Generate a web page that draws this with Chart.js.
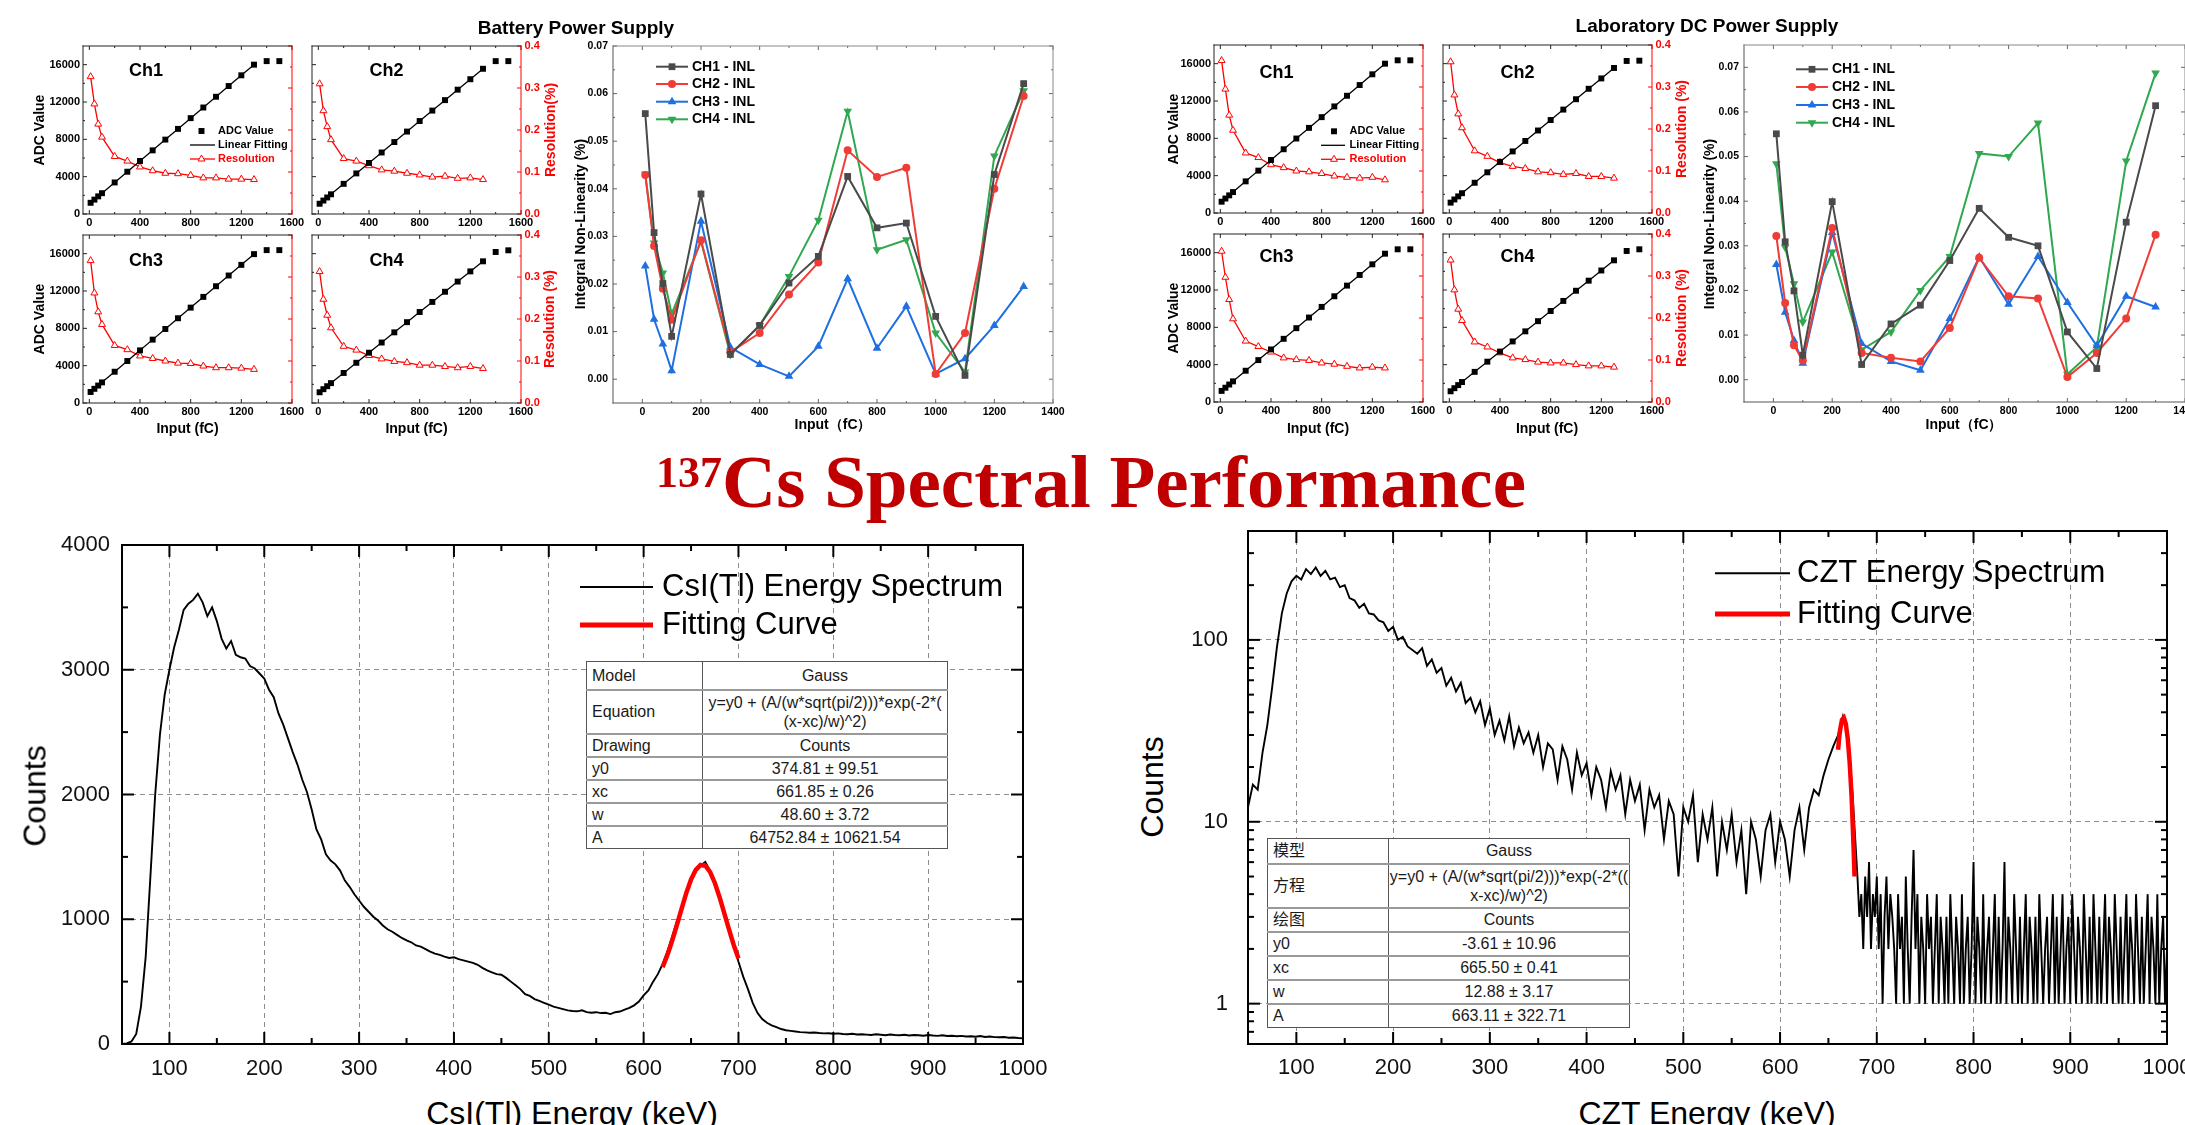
<!DOCTYPE html>
<html>
<head>
<meta charset="utf-8">
<title>Readout electronics tests and 137Cs spectra</title>
<script src="https://cdn.jsdelivr.net/npm/chart.js@4.4.1/dist/chart.umd.min.js"></script>
<style>
html, body { margin:0; padding:0; background:#fff; overflow:hidden; }
#page { position:relative; width:2185px; height:1125px; overflow:hidden; background:#fff;
        font-family:'Liberation Sans', Arial, sans-serif; }
#page canvas { position:absolute; }
.lbl { position:absolute; white-space:nowrap; line-height:1; transform:translate(-50%,-50%); color:#000; }
.rot { transform:translate(-50%,-50%) rotate(-90deg); }
#bigTitle { position:absolute; left:1091px; top:444px; transform:translateX(-50%); white-space:nowrap;
            font:bold 75px 'Liberation Serif', 'Times New Roman', serif; line-height:75px; color:#c00000; }
#bigTitle span { font-size:44px; position:relative; top:-20px; }
table.fit { position:absolute; border-collapse:collapse; table-layout:fixed; background:#fff;
            font-family:'Liberation Sans', Arial, 'Noto Sans CJK SC', sans-serif; font-size:16px; color:#1a1a1a; }
table.fit td { border:1px solid #555; padding:0 0 0 5px; white-space:pre-line; line-height:19px; overflow:hidden; }
table.fit td + td { text-align:center; padding:0; }
table.fit tr + tr td { border-top:2px solid #999; }
</style>
</head>
<body>
<div id="page"></div>
<script>
// ---- input charge (fC) used by the ADC / INL measurements
const inputCharge = [10, 40, 70, 100, 200, 300, 400, 500, 600, 700, 800, 900, 1000, 1100, 1200, 1300];
const adcInput = [10, 40, 70, 100, 200, 300, 400, 500, 600, 700, 800, 900, 1000, 1100, 1200, 1300, 1400, 1500];

// ---- battery power supply: ADC value per channel
const batAdcCh1 = [1200, 1540, 1890, 2230, 3380, 4530, 5680, 6820, 7970, 9120, 10270, 11410, 12560, 13710, 14860, 16000, 16380, 16380];
const batAdcCh2 = [1100, 1440, 1770, 2110, 3230, 4350, 5470, 6590, 7710, 8830, 9960, 11080, 12200, 13320, 14440, 15560, 16380, 16380];
const batAdcCh3 = [1180, 1520, 1870, 2210, 3350, 4500, 5640, 6790, 7930, 9080, 10220, 11370, 12510, 13660, 14800, 15950, 16380, 16380];
const batAdcCh4 = [1150, 1480, 1800, 2130, 3220, 4310, 5390, 6480, 7570, 8660, 9750, 10830, 11920, 13010, 14100, 15180, 16180, 16360];
// ---- battery power supply: resolution (%)
const batResCh1 = [0.327, 0.262, 0.214, 0.183, 0.137, 0.126, 0.112, 0.103, 0.097, 0.096, 0.092, 0.086, 0.086, 0.083, 0.083, 0.082];
const batResCh2 = [0.310, 0.246, 0.208, 0.177, 0.132, 0.126, 0.115, 0.105, 0.102, 0.097, 0.093, 0.088, 0.090, 0.085, 0.086, 0.082];
const batResCh3 = [0.339, 0.262, 0.217, 0.187, 0.137, 0.127, 0.112, 0.106, 0.100, 0.095, 0.094, 0.088, 0.084, 0.084, 0.083, 0.080];
const batResCh4 = [0.313, 0.247, 0.209, 0.179, 0.135, 0.126, 0.113, 0.105, 0.099, 0.096, 0.090, 0.090, 0.087, 0.084, 0.087, 0.082];
// ---- battery power supply: integral non-linearity (%)
const batInlCh1 = [0.0558, 0.0308, 0.0201, 0.0090, 0.0389, 0.0052, 0.0113, 0.0202, 0.0258, 0.0426, 0.0318, 0.0328, 0.0132, 0.0008, 0.0430, 0.0621];
const batInlCh2 = [0.0429, 0.0280, 0.0190, 0.0125, 0.0292, 0.0057, 0.0097, 0.0178, 0.0245, 0.0481, 0.0425, 0.0444, 0.0011, 0.0097, 0.0400, 0.0595];
const batInlCh3 = [0.0238, 0.0126, 0.0074, 0.0018, 0.0332, 0.0067, 0.0031, 0.0006, 0.0069, 0.0211, 0.0065, 0.0153, 0.0011, 0.0043, 0.0113, 0.0195];
const batInlCh4 = [0.0431, 0.0286, 0.0223, 0.0137, 0.0290, 0.0052, 0.0113, 0.0216, 0.0334, 0.0563, 0.0272, 0.0293, 0.0097, 0.0015, 0.0469, 0.0606];

// ---- laboratory DC power supply
const labAdcCh1 = [1210, 1550, 1890, 2240, 3390, 4540, 5680, 6830, 7980, 9120, 10270, 11420, 12560, 13710, 14860, 16000, 16360, 16360];
const labAdcCh2 = [1110, 1450, 1780, 2120, 3240, 4360, 5480, 6600, 7720, 8840, 9960, 11080, 12190, 13310, 14420, 15540, 16290, 16320];
const labAdcCh3 = [1190, 1530, 1870, 2210, 3350, 4490, 5630, 6770, 7910, 9050, 10190, 11330, 12470, 13610, 14750, 15890, 16360, 16360];
const labAdcCh4 = [1150, 1480, 1810, 2140, 3230, 4320, 5400, 6490, 7570, 8660, 9750, 10830, 11920, 13000, 14090, 15180, 16180, 16360];
const labResCh1 = [0.363, 0.295, 0.233, 0.197, 0.143, 0.132, 0.115, 0.108, 0.100, 0.098, 0.094, 0.088, 0.085, 0.083, 0.085, 0.079];
const labResCh2 = [0.360, 0.281, 0.236, 0.203, 0.148, 0.135, 0.120, 0.111, 0.106, 0.098, 0.096, 0.092, 0.094, 0.087, 0.087, 0.083];
const labResCh3 = [0.359, 0.297, 0.244, 0.198, 0.145, 0.132, 0.119, 0.105, 0.101, 0.099, 0.093, 0.090, 0.085, 0.081, 0.083, 0.081];
const labResCh4 = [0.338, 0.267, 0.221, 0.194, 0.143, 0.131, 0.117, 0.105, 0.101, 0.095, 0.093, 0.093, 0.089, 0.086, 0.086, 0.083];
const labInlCh1 = [0.0551, 0.0309, 0.0199, 0.0055, 0.0399, 0.0034, 0.0125, 0.0167, 0.0267, 0.0384, 0.0319, 0.0300, 0.0107, 0.0025, 0.0353, 0.0614];
const labInlCh2 = [0.0322, 0.0172, 0.0077, 0.0043, 0.0340, 0.0060, 0.0049, 0.0041, 0.0116, 0.0273, 0.0187, 0.0182, 0.0006, 0.0060, 0.0137, 0.0325];
const labInlCh3 = [0.0258, 0.0151, 0.0088, 0.0037, 0.0330, 0.0081, 0.0041, 0.0021, 0.0137, 0.0275, 0.0169, 0.0276, 0.0173, 0.0076, 0.0187, 0.0163];
const labInlCh4 = [0.0484, 0.0297, 0.0215, 0.0129, 0.0286, 0.0067, 0.0107, 0.0200, 0.0276, 0.0507, 0.0500, 0.0575, 0.0012, 0.0073, 0.0490, 0.0687];

// ---- 137Cs spectra, one value every 5 keV from 50 keV
const specStart = 50, specStep = 5;
const csiCounts = [
  0, 5, 20, 80, 300, 700, 1350, 2000, 2480, 2800,
  3000, 3180, 3320, 3480, 3530, 3560, 3610, 3540, 3430, 3500,
  3390, 3250, 3170, 3230, 3120, 3100, 3090, 3030, 3010, 2970,
  2930, 2840, 2780, 2650, 2560, 2450, 2340, 2240, 2120, 2020,
  1880, 1720, 1640, 1520, 1470, 1440, 1390, 1310, 1260, 1200,
  1150, 1100, 1060, 1020, 990, 950, 920, 900, 875, 850,
  830, 815, 790, 780, 760, 740, 725, 715, 700, 690,
  695, 680, 670, 660, 650, 635, 610, 590, 575, 560,
  555, 530, 500, 470, 440, 400, 385, 360, 345, 330,
  315, 300, 290, 280, 270, 265, 262, 270, 255, 250,
  255, 248, 250, 240, 255, 260, 275, 290, 310, 340,
  390, 430, 500, 560, 640, 740, 860, 980, 1090, 1200,
  1320, 1390, 1430, 1460, 1390, 1300, 1190, 1050, 930, 800,
  660, 540, 440, 330, 250, 200, 170, 150, 135, 120,
  110, 105, 100, 95, 93, 90, 92, 88, 85, 86,
  82, 85, 80, 78, 82, 76, 78, 75, 72, 78,
  74, 70, 76, 72, 70, 74, 68, 72, 70, 66,
  72, 68, 65, 70, 64, 66, 62, 65, 60, 62,
  58, 64, 56, 60, 55, 54, 56, 50, 52, 48,
  45
];
// CZT: 50-675 keV every 5 keV, then the noisy tail 680-1000 keV every 2 keV
const cztCounts = [
  12, 16, 15, 24, 34, 55, 92, 140, 180, 210,
  225, 215, 245, 230, 250, 225, 240, 215, 220, 195,
  200, 170, 165, 150, 158, 140, 138, 128, 125, 112,
  118, 100, 104, 92, 88, 84, 90, 72, 78, 66,
  70, 56, 62, 52, 58, 45, 48, 40, 46, 34,
  42, 30, 36, 28, 38, 26, 33, 27, 31, 24,
  30, 20, 27, 25, 17, 26, 22, 15, 24, 18,
  21, 14, 20, 17, 12, 19, 15, 18, 11, 17,
  13, 16, 9, 15, 12, 14, 8, 13, 11, 5,
  12, 10, 14, 6, 11, 8, 12, 5, 10, 7,
  11, 6, 9, 4, 10, 8, 5, 9, 11, 6,
  10, 8, 5, 9, 12, 7, 12, 15, 14, 18,
  22, 26, 30, 38, 30, 14
];
const cztTailStart = 680, cztTailStep = 2;
const cztTail = [
  5, 3, 4, 2, 5, 3, 6, 2, 4, 3, 5, 2, 4, 1, 3, 5, 2, 4, 3, 2,
  1, 4, 2, 3, 1, 5, 2, 1, 3, 7, 2, 4, 1, 3, 2, 1, 4, 2, 3, 1,
  2, 4, 1, 3, 2, 1, 3, 1, 4, 2, 1, 3, 2, 1, 4, 1, 2, 3, 1, 2,
  6, 1, 3, 2, 1, 4, 1, 2, 3, 1, 2, 4, 1, 3, 1, 2, 6, 1, 3, 2,
  1, 4, 2, 1, 3, 1, 2, 4, 1, 3, 2, 1, 3, 1, 4, 2, 1, 2, 3, 1,
  2, 4, 1, 3, 1, 2, 4, 1, 2, 3, 1, 4, 2, 1, 3, 2, 1, 4, 2, 1,
  3, 1, 4, 2, 1, 3, 1, 2, 4, 1, 3, 2, 1, 4, 2, 1, 3, 1, 2, 4,
  1, 3, 2, 1, 4, 2, 1, 3, 1, 2, 4, 1, 3, 2, 1, 4, 1, 2, 3, 1,
  2
];
// ---- Gauss fitting curves over the photopeak
const csiFitEnergy = [620, 625, 630, 635, 640, 645, 650, 655, 660, 665, 670, 675, 680, 685, 690, 695, 700];
const csiFitCounts = [616, 712, 825, 952, 1084, 1211, 1319, 1396, 1435, 1429, 1380, 1293, 1179, 1050, 918, 794, 685];
const cztFitEnergy = [660, 661, 662, 664, 666, 668, 670, 672, 674, 676, 677];
const cztFitCounts = [24.9, 28.6, 31.8, 36.4, 37.3, 34.5, 28.6, 21.1, 13.6, 7.3, 5.0];

// ---- tick labels
const adcXTicks = [0, 400, 800, 1200, 1600];
const adcYTicks = [0, 4000, 8000, 12000, 16000];
const resTicks = [0, 0.1, 0.2, 0.3, 0.4];
const inlXTicks = [0, 200, 400, 600, 800, 1000, 1200, 1400];
const inlYTicks = [0, 0.01, 0.02, 0.03, 0.04, 0.05, 0.06, 0.07];
const specXTicks = [100, 200, 300, 400, 500, 600, 700, 800, 900, 1000];
const csiYTicks = [0, 1000, 2000, 3000, 4000];
const cztYTicks = [1, 10, 100];

const inlNames = ['CH1 - INL', 'CH2 - INL', 'CH3 - INL', 'CH4 - INL'];
const inlColors = ['#4a4a4a', '#f03c36', '#1e6fe0', '#2fa84f'];

const csiTable = [['Model', 'Gauss'], ['Equation', 'y=y0 + (A/(w*sqrt(pi/2)))*exp(-2*(\n(x-xc)/w)^2)'], ['Drawing', 'Counts'],
  ['y0', '374.81 ± 99.51'], ['xc', '661.85 ± 0.26'], ['w', '48.60 ± 3.72'], ['A', '64752.84 ± 10621.54']];
const cztTable = [['模型', 'Gauss'], ['方程', 'y=y0 + (A/(w*sqrt(pi/2)))*exp(-2*((\nx-xc)/w)^2)'], ['绘图', 'Counts'],
  ['y0', '-3.61 ± 10.96'], ['xc', '665.50 ± 0.41'], ['w', '12.88 ± 3.17'], ['A', '663.11 ± 322.71']];

const SANS = "'Liberation Sans', Arial, sans-serif";
const page = document.getElementById('page');
Chart.defaults.font.family = SANS;

function addCanvas(box, pad) {
  const c = document.createElement('canvas');
  const w = box.w + pad.l + pad.r, h = box.h + pad.t + pad.b;
  c.width = w; c.height = h;
  c.style.left = (box.x - pad.l) + 'px';
  c.style.top = (box.y - pad.t) + 'px';
  c.style.width = w + 'px'; c.style.height = h + 'px';
  page.appendChild(c);
  return c;
}

function addLabel(text, x, y, css, rotate) {
  const d = document.createElement('div');
  d.className = 'lbl' + (rotate ? ' rot' : '');
  d.textContent = text;
  d.style.cssText = 'left:' + x + 'px;top:' + y + 'px;' + css;
  page.appendChild(d);
}

function addTable(x, y, widths, heights, rows) {
  const t = document.createElement('table');
  t.className = 'fit';
  t.style.left = x + 'px'; t.style.top = y + 'px';
  t.style.width = (widths[0] + widths[1]) + 'px';
  const cg = document.createElement('colgroup');
  widths.forEach(w => { const col = document.createElement('col'); col.style.width = w + 'px'; cg.appendChild(col); });
  t.appendChild(cg);
  rows.forEach((r, i) => {
    const tr = document.createElement('tr');
    tr.style.height = heights[i] + 'px';
    r.forEach(txt => { const td = document.createElement('td'); td.textContent = txt; tr.appendChild(td); });
    t.appendChild(tr);
  });
  page.appendChild(t);
}

function minorValues(s, majors) {
  const out = [];
  if (s.type === 'logarithmic') {
    for (let e = Math.floor(Math.log10(s.min)); e <= Math.ceil(Math.log10(s.max)); e++)
      for (let k = 2; k <= 9; k++) { const v = k * Math.pow(10, e); if (v > s.min && v < s.max) out.push(v); }
    return out;
  }
  if (majors.length < 2) return out;
  const step = majors[1] - majors[0];
  for (let v = majors[0] - step / 2; v < s.max; v += step) if (v > s.min) out.push(v);
  return out;
}

function drawMarker(ctx, p, x, y) {
  const r = p.r;
  ctx.beginPath();
  if (p.style === 'rect') {
    const s = r * Math.SQRT1_2;
    ctx.rect(x - s, y - s, 2 * s, 2 * s);
  } else if (p.style === 'circle') {
    ctx.arc(x, y, r, 0, Math.PI * 2);
  } else {
    const flip = p.style === 'triangleDown' ? -1 : 1;
    ctx.moveTo(x, y - flip * r);
    ctx.lineTo(x + r * 0.866, y + flip * r * 0.5);
    ctx.lineTo(x - r * 0.866, y + flip * r * 0.5);
    ctx.closePath();
  }
  ctx.fillStyle = p.fill; ctx.fill();
  if (p.stroke) { ctx.strokeStyle = p.stroke; ctx.lineWidth = p.sw || 1; ctx.stroke(); }
}

function drawFrame(chart, ctx, a, f) {
  ctx.lineWidth = f.width;
  f.marks.forEach(m => {
    const s = chart.scales[m.scale];
    const majors = s.ticks.map(t => t.value);
    const minors = minorValues(s, majors);
    ctx.strokeStyle = m.color;
    m.sides.forEach(side => {
      const seg = (v, len) => {
        const p = s.getPixelForValue(v);
        ctx.beginPath();
        if (side === 'bottom') { ctx.moveTo(p, a.bottom); ctx.lineTo(p, a.bottom - len); }
        else if (side === 'top') { ctx.moveTo(p, a.top); ctx.lineTo(p, a.top + len); }
        else if (side === 'left') { ctx.moveTo(a.left, p); ctx.lineTo(a.left + len, p); }
        else { ctx.moveTo(a.right, p); ctx.lineTo(a.right - len, p); }
        ctx.stroke();
      };
      majors.forEach(v => seg(v, m.major));
      minors.forEach(v => seg(v, m.minor));
    });
  });
  const edges = { left: [a.left, a.top, a.left, a.bottom], right: [a.right, a.top, a.right, a.bottom],
                  top: [a.left, a.top, a.right, a.top], bottom: [a.left, a.bottom, a.right, a.bottom] };
  ctx.lineCap = 'square';
  Object.keys(f.sides).forEach(k => {
    const e = edges[k];
    ctx.strokeStyle = f.sides[k];
    ctx.beginPath(); ctx.moveTo(e[0], e[1]); ctx.lineTo(e[2], e[3]); ctx.stroke();
  });
}

function drawLegend(ctx, a, g) {
  ctx.font = g.font;
  ctx.textBaseline = 'middle';
  ctx.textAlign = 'left';
  ctx.lineCap = 'butt';
  g.items.forEach((it, i) => {
    const y = a.top + g.rows[i];
    if (it.line) {
      ctx.strokeStyle = it.line.color; ctx.lineWidth = it.line.width;
      ctx.beginPath(); ctx.moveTo(a.left + g.x0, y); ctx.lineTo(a.left + g.x1, y); ctx.stroke();
    }
    if (it.point) drawMarker(ctx, it.point, a.left + g.xm, y);
    ctx.fillStyle = it.color || '#000';
    ctx.fillText(it.text, a.left + g.tx, y);
  });
}

Chart.register({
  id: 'decor',
  afterDraw(chart) {
    const d = chart.canvas.decor;
    if (!d) return;
    const ctx = chart.ctx, a = chart.chartArea;
    ctx.save();
    if (d.frame) drawFrame(chart, ctx, a, d.frame);
    if (d.legend) drawLegend(ctx, a, d.legend);
    ctx.restore();
  }
});

function axis(o) {
  return {
    type: o.type || 'linear', position: o.pos, min: o.min, max: o.max,
    afterBuildTicks: s => { s.ticks = o.ticks.map(v => ({ value: v })); },
    afterFit: s => { if (o.pos === 'left' || o.pos === 'right') s.width = o.size; else s.height = o.size; },
    grid: o.grid ? { display: true, drawTicks: false, color: '#8c8c8c', lineWidth: 1 } : { display: false, drawTicks: false },
    border: { display: false, dash: o.grid ? [5, 4] : [] },
    ticks: { display: o.show !== false, font: o.font, color: o.color || '#000', padding: o.pad,
             maxRotation: 0, autoSkip: false, callback: o.fmt || (v => String(v)) }
  };
}

function options(pad, scales, hasRight) {
  return {
    responsive: false, animation: false, devicePixelRatio: 1, events: [],
    layout: { padding: { left: 0, top: pad.t, right: hasRight ? 0 : pad.r, bottom: 0 } },
    plugins: { legend: { display: false }, tooltip: { enabled: false } },
    scales: scales
  };
}

const bold = size => ({ family: SANS, size: size, weight: 'bold' });

function adcPanel(box, adc, res, o) {
  const pad = { l: 48, r: 34, t: 14, b: 22 };
  const c = addCanvas(box, pad);
  c.decor = {
    frame: { width: 1, sides: { left: '#222', top: '#222', bottom: '#222', right: '#f00' },
      marks: [ { scale: 'x', sides: ['bottom', 'top'], major: 4, minor: 2, color: '#222' },
               { scale: 'y', sides: ['left'], major: 4, minor: 2, color: '#222' },
               { scale: 'y1', sides: ['right'], major: 4, minor: 2, color: '#f00' } ] },
    legend: o.legend || null
  };
  new Chart(c, {
    type: 'scatter',
    data: { datasets: [
      { data: adcInput.map((x, i) => ({ x: x, y: adc[i] })), showLine: false, pointStyle: 'rect',
        pointRadius: 4.2, pointBackgroundColor: '#000', pointBorderWidth: 0 },
      { data: inputCharge.map((x, i) => ({ x: x, y: adc[i] })), showLine: true, pointRadius: 0,
        borderColor: '#000', borderWidth: 1.3 },
      { data: inputCharge.map((x, i) => ({ x: x, y: res[i] })), yAxisID: 'y1', showLine: true,
        borderColor: '#f00', borderWidth: 1.3, pointStyle: 'triangle', pointRadius: 4,
        pointBackgroundColor: '#fff', pointBorderColor: '#f00', pointBorderWidth: 1 }
    ] },
    options: options(pad, {
      x: axis({ pos: 'bottom', min: -50, max: 1600, ticks: adcXTicks, size: pad.b, font: bold(11), pad: 2 }),
      y: axis({ pos: 'left', min: 0, max: 18000, ticks: adcYTicks, size: pad.l, font: bold(11), pad: 3, show: o.left }),
      y1: axis({ pos: 'right', min: 0, max: 0.4, ticks: resTicks, size: pad.r, font: bold(11), pad: 3.5,
                 show: o.right, color: '#f00', fmt: v => v.toFixed(1) })
    }, true)
  });
}

function adcLegend(rows, x0, x1, xm, tx) {
  return { font: 'bold 11px ' + SANS, rows: rows, x0: x0, x1: x1, xm: xm, tx: tx, items: [
    { text: 'ADC Value', point: { style: 'rect', r: 4.2, fill: '#000' } },
    { text: 'Linear Fitting', line: { color: '#000', width: 1.3 } },
    { text: 'Resolution', color: '#f00', line: { color: '#f00', width: 1.3 },
      point: { style: 'triangle', r: 4, fill: '#fff', stroke: '#f00' } }
  ] };
}

const inlStyles = [
  { style: 'rect', r: 4.8, rot: 0 }, { style: 'circle', r: 4, rot: 0 },
  { style: 'triangle', r: 5, rot: 0 }, { style: 'triangleDown', r: 5, rot: 180 }
];

function inlPanel(box, series, yMax, padR, leg) {
  const pad = { l: 40, r: padR, t: 14, b: 20 };
  const c = addCanvas(box, pad);
  c.decor = {
    frame: { width: 1, sides: { left: '#555', top: '#888', bottom: '#555', right: '#888' },
      marks: [ { scale: 'x', sides: ['bottom', 'top'], major: 4, minor: 2, color: '#666' },
               { scale: 'y', sides: ['left', 'right'], major: 4, minor: 2, color: '#666' } ] },
    legend: { font: 'bold 14px ' + SANS, rows: leg.rows, x0: leg.x0, x1: leg.x1, xm: leg.xm, tx: leg.tx,
      items: inlNames.map((n, i) => ({ text: n, line: { color: inlColors[i], width: 2 },
        point: { style: inlStyles[i].style, r: inlStyles[i].r, fill: inlColors[i] } })) }
  };
  new Chart(c, {
    type: 'scatter',
    data: { datasets: series.map((s, i) => ({
      data: inputCharge.map((x, k) => ({ x: x, y: s[k] })), showLine: true,
      borderColor: inlColors[i], borderWidth: 2, pointStyle: i === 3 ? 'triangle' : inlStyles[i].style,
      pointRotation: inlStyles[i].rot, pointRadius: inlStyles[i].r, pointBackgroundColor: inlColors[i],
      pointBorderColor: inlColors[i], pointBorderWidth: 0 })) },
    options: options(pad, {
      x: axis({ pos: 'bottom', min: -100, max: 1400, ticks: inlXTicks, size: pad.b, font: bold(10.5), pad: 2.5 }),
      y: axis({ pos: 'left', min: -0.005, max: yMax, ticks: inlYTicks, size: pad.l, font: bold(10.5), pad: 5,
                fmt: v => v.toFixed(2) })
    }, false)
  });
}

function specPanel(box, points, fitE, fitC, yAxis, padL, yPad, xPad, legendText, leg) {
  const pad = { l: padL, r: 48, t: 40, b: 45 };
  const c = addCanvas(box, pad);
  c.decor = {
    frame: { width: 2, sides: { left: '#000', top: '#000', bottom: '#000', right: '#000' },
      marks: [ { scale: 'x', sides: ['bottom', 'top'], major: 12, minor: 6, color: '#000' },
               { scale: 'y', sides: ['left', 'right'], major: 12, minor: 6, color: '#000' } ] },
    legend: { font: '31px ' + SANS, rows: leg.rows, x0: leg.x0, x1: leg.x1, xm: 0, tx: leg.tx, items: [
      { text: legendText, line: { color: '#000', width: 2 } },
      { text: 'Fitting Curve', line: { color: '#f00', width: 5 } } ] }
  };
  yAxis.pos = 'left'; yAxis.size = pad.l; yAxis.font = { family: SANS, size: 22 }; yAxis.pad = yPad;
  yAxis.grid = true; yAxis.color = '#111';
  new Chart(c, {
    type: 'scatter',
    data: { datasets: [
      { data: fitE.map((x, i) => ({ x: x, y: fitC[i] })), showLine: true, pointRadius: 0,
        borderColor: '#f00', borderWidth: 4.5 },
      { data: points, showLine: true, pointRadius: 0, borderColor: '#000', borderWidth: 1.9 }
    ] },
    options: options(pad, {
      x: axis({ pos: 'bottom', min: 50, max: 1000, ticks: specXTicks, size: pad.b, font: { family: SANS, size: 22 },
                pad: xPad, grid: true, color: '#111' }),
      y: axis(yAxis)
    }, false)
  });
}

// ---------------- Battery power supply ----------------
adcPanel({ x: 83, y: 46, w: 209, h: 168 }, batAdcCh1, batResCh1,
  { left: true, right: false, legend: adcLegend([85, 99, 113], 107, 132, 118.5, 135) });
adcPanel({ x: 312, y: 46, w: 209, h: 168 }, batAdcCh2, batResCh2, { left: false, right: true });
adcPanel({ x: 83, y: 235, w: 209, h: 168 }, batAdcCh3, batResCh3, { left: true, right: false });
adcPanel({ x: 312, y: 235, w: 209, h: 168 }, batAdcCh4, batResCh4, { left: false, right: true });
inlPanel({ x: 613, y: 46, w: 440, h: 357 }, [batInlCh1, batInlCh2, batInlCh3, batInlCh4], 0.07, 22,
  { rows: [20.7, 38, 55.7, 73.3], x0: 43, x1: 75, xm: 59, tx: 79 });

// ---------------- Laboratory DC power supply ----------------
adcPanel({ x: 1214, y: 45, w: 209, h: 168 }, labAdcCh1, labResCh1,
  { left: true, right: false, legend: adcLegend([86.3, 100.3, 114.3], 107, 131, 120, 135.5) });
adcPanel({ x: 1443, y: 45, w: 209, h: 168 }, labAdcCh2, labResCh2, { left: false, right: true });
adcPanel({ x: 1214, y: 234, w: 209, h: 168 }, labAdcCh3, labResCh3, { left: true, right: false });
adcPanel({ x: 1443, y: 234, w: 209, h: 168 }, labAdcCh4, labResCh4, { left: false, right: true });
inlPanel({ x: 1744, y: 45, w: 441, h: 357 }, [labInlCh1, labInlCh2, labInlCh3, labInlCh4], 0.075, 30,
  { rows: [24.3, 42, 60, 77.7], x0: 52, x1: 84, xm: 68, tx: 88 });

// ---------------- 137Cs spectra ----------------
const csiPoints = csiCounts.map((y, i) => ({ x: specStart + i * specStep, y: y }));
const cztPoints = cztCounts.map((y, i) => ({ x: specStart + i * specStep, y: y }))
  .concat(cztTail.map((y, i) => ({ x: cztTailStart + i * cztTailStep, y: y })));

specPanel({ x: 122, y: 545, w: 901, h: 499 }, csiPoints, csiFitEnergy, csiFitCounts,
  { min: 0, max: 4000, ticks: csiYTicks }, 80, 12, 12, 'CsI(Tl) Energy Spectrum',
  { rows: [42, 80], x0: 458, x1: 531, tx: 540 });
specPanel({ x: 1248, y: 531, w: 919, h: 513 }, cztPoints, cztFitEnergy, cztFitCounts,
  { type: 'logarithmic', min: 0.641, max: 397, ticks: cztYTicks }, 60, 20, 11, 'CZT Energy Spectrum',
  { rows: [42.3, 83], x0: 467, x1: 542, tx: 549 });

// ---------------- text ----------------
const b14 = 'font:bold 14px ' + SANS + ';';
const b18 = 'font:bold 18px ' + SANS + ';';
const b19 = 'font:bold 19px ' + SANS + ';';
const red = 'color:#f00;';
const big = 'font:32px ' + SANS + ';';

addLabel('Battery Power Supply', 576, 28, b19);
addLabel('Ch1', 146, 70, b18); addLabel('Ch2', 386.5, 70, b18);
addLabel('Ch3', 146, 259.5, b18); addLabel('Ch4', 386.5, 259.5, b18);
addLabel('ADC Value', 39, 130, b14, true); addLabel('ADC Value', 39, 319, b14, true);
addLabel('Resolution(%)', 550, 130, b14 + red, true); addLabel('Resolution (%)', 549, 319, b14 + red, true);
addLabel('Input (fC)', 187.5, 428, b14); addLabel('Input (fC)', 416.5, 428, b14);
addLabel('Integral Non-Linearity (%)', 580, 224, b14, true);
addLabel('Input（fC）', 833, 425, b14);

addLabel('Laboratory DC Power Supply', 1707, 26, b19);
addLabel('Ch1', 1276.5, 71.5, b18); addLabel('Ch2', 1517.5, 71.5, b18);
addLabel('Ch3', 1276.5, 256, b18); addLabel('Ch4', 1517.5, 256, b18);
addLabel('ADC Value', 1173, 129, b14, true); addLabel('ADC Value', 1173, 318, b14, true);
addLabel('Resolution (%)', 1681, 129, b14 + red, true); addLabel('Resolution (%)', 1681, 318, b14 + red, true);
addLabel('Input (fC)', 1318, 428, b14); addLabel('Input (fC)', 1547, 428, b14);
addLabel('Integral Non-Linearity (%)', 1709, 224, b14, true);
addLabel('Input（fC）', 1964, 425, b14);

const title = document.createElement('div');
title.id = 'bigTitle';
title.innerHTML = '<span>137</span>Cs Spectral Performance';
page.appendChild(title);

addLabel('Counts', 35, 796, big, true);
addLabel('Counts', 1152, 787, big, true);
addLabel('CsI(Tl) Energy (keV)', 572, 1113, big);
addLabel('CZT Energy (keV)', 1707, 1113, big);

addTable(586, 661, [116, 245], [28, 44, 23, 23, 23, 23, 23], csiTable);
addTable(1267, 838, [121, 241], [25, 44, 24, 24, 24, 24, 24], cztTable);
</script>
</body>
</html>
